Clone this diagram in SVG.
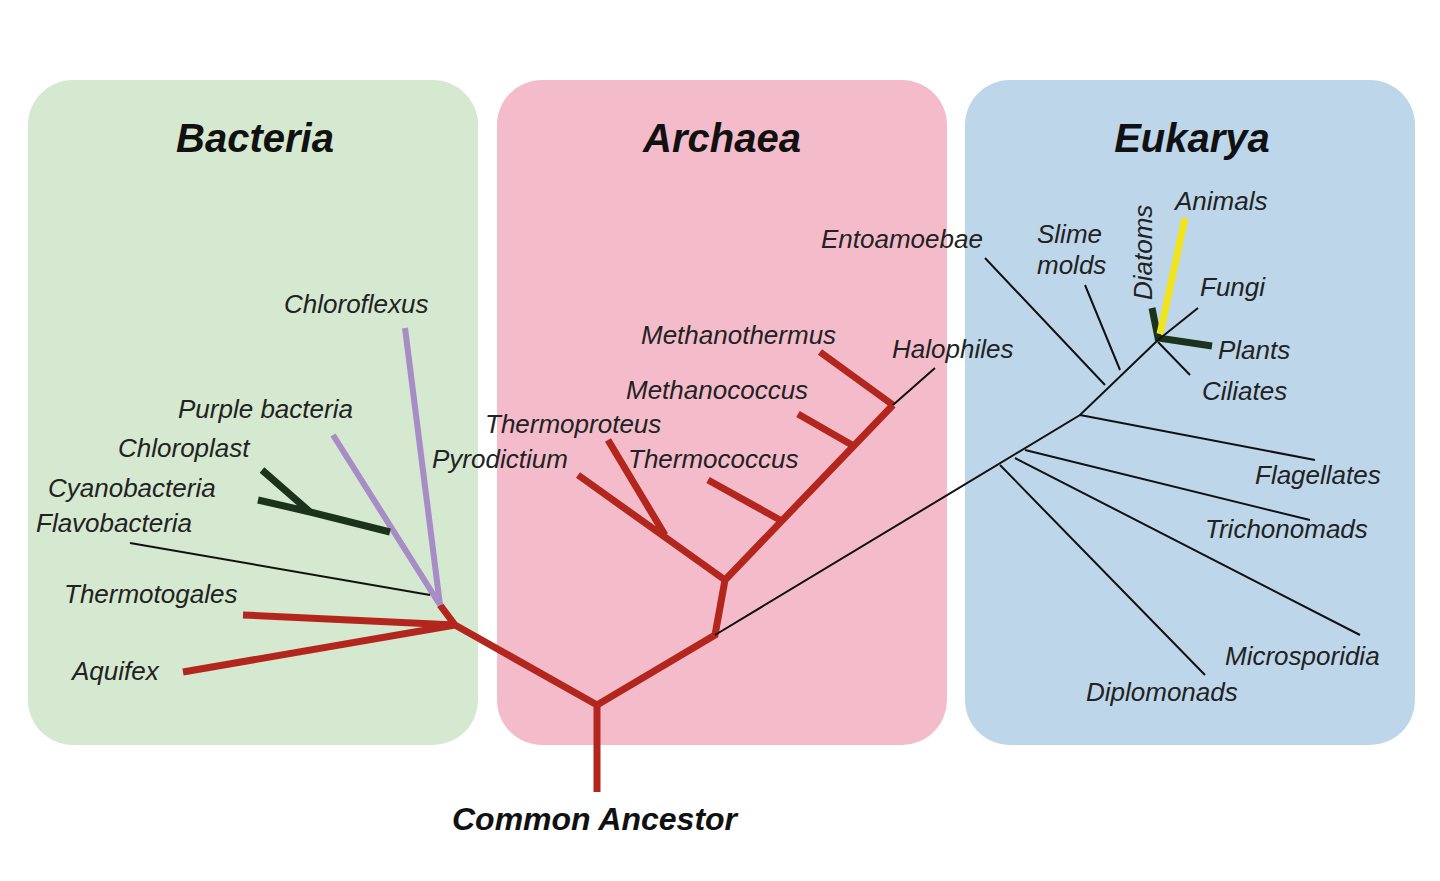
<svg xmlns="http://www.w3.org/2000/svg" width="1440" height="881" viewBox="0 0 1440 881">
<style>
text{font-family:"Liberation Sans",Arial,sans-serif;font-style:italic;fill:#222}
.l{font-size:26px}
.t{font-size:40px;font-weight:bold;text-anchor:middle;fill:#111}
.red{stroke:#b3261e;stroke-width:7;fill:none;stroke-linecap:butt}
.blk{stroke:#111;stroke-width:2;fill:none}
.pur{stroke:#a88cc6;stroke-width:6;fill:none}
.dg{stroke:#1b331b;stroke-width:7;fill:none}
.yel{stroke:#f2e41c;stroke-width:7;fill:none}
</style>
<rect width="1440" height="881" fill="#fff"/>
<g id="bacteria"><rect x="28" y="80" width="450" height="665" rx="45" fill="#d5e8d0"/><text class="t" x="255" y="152">Bacteria</text></g>
<g id="archaea"><rect x="497" y="80" width="450" height="665" rx="45" fill="#f4bccb"/><text class="t" x="722" y="152">Archaea</text></g>
<g id="eukarya"><rect x="965" y="80" width="450" height="665" rx="45" fill="#bdd6ea"/><text class="t" x="1192" y="152">Eukarya</text></g>
<g id="connectors">
<path class="red" d="M597 792V705L455 625M597 705L715 635L725 580L578 475M665 535L608 440M725 580L893 405M780 520L708 480M852 445L798 414M893 405L820 352M455 625L243 615M455 625L183 672M455 625L440 605"/>
<path class="pur" d="M440 605L405 328M440 605L333 435"/>
<path class="dg" d="M390 532L310 512L262 470M310 512L258 500M1152 308L1158 338L1212 346"/>
<path class="yel" d="M1160 334L1185 218"/>
<path class="blk" d="M430 595L130 543M893 405L935 368M715 635L1080 415L1158 340M1105 385L985 258M1120 370L1085 285M1158 340L1198 308M1158 342L1190 375M1080 415L1315 460M1025 450L1310 520M1015 458L1360 635M1000 465L1205 675"/>
</g>
<g id="labels" class="l">
<text class="l" x="284" y="313">Chloroflexus</text>
<text class="l" x="178" y="418">Purple bacteria</text>
<text class="l" x="118" y="457">Chloroplast</text>
<text class="l" x="48" y="497">Cyanobacteria</text>
<text class="l" x="36" y="532">Flavobacteria</text>
<text class="l" x="64" y="603">Thermotogales</text>
<text class="l" x="72" y="680">Aquifex</text>
<text class="l" x="641" y="344">Methanothermus</text>
<text class="l" x="626" y="399">Methanococcus</text>
<text class="l" x="485" y="433">Thermoproteus</text>
<text class="l" x="432" y="468">Pyrodictium</text>
<text class="l" x="628" y="468">Thermococcus</text>
<text class="l" x="892" y="358">Halophiles</text>
<text class="l" x="821" y="248">Entoamoebae</text>
<text class="l" x="1037" y="243">Slime</text>
<text class="l" x="1037" y="274">molds</text>
<text class="l" transform="translate(1152 300) rotate(-90)">Diatoms</text>
<text class="l" x="1175" y="210">Animals</text>
<text class="l" x="1200" y="296">Fungi</text>
<text class="l" x="1218" y="359">Plants</text>
<text class="l" x="1202" y="400">Ciliates</text>
<text class="l" x="1255" y="484">Flagellates</text>
<text class="l" x="1205" y="538">Trichonomads</text>
<text class="l" x="1225" y="665">Microsporidia</text>
<text class="l" x="1086" y="701">Diplomonads</text>
<text x="452" y="830" style="font-size:32px;font-weight:bold;fill:#111">Common Ancestor</text>
</g>
</svg>
